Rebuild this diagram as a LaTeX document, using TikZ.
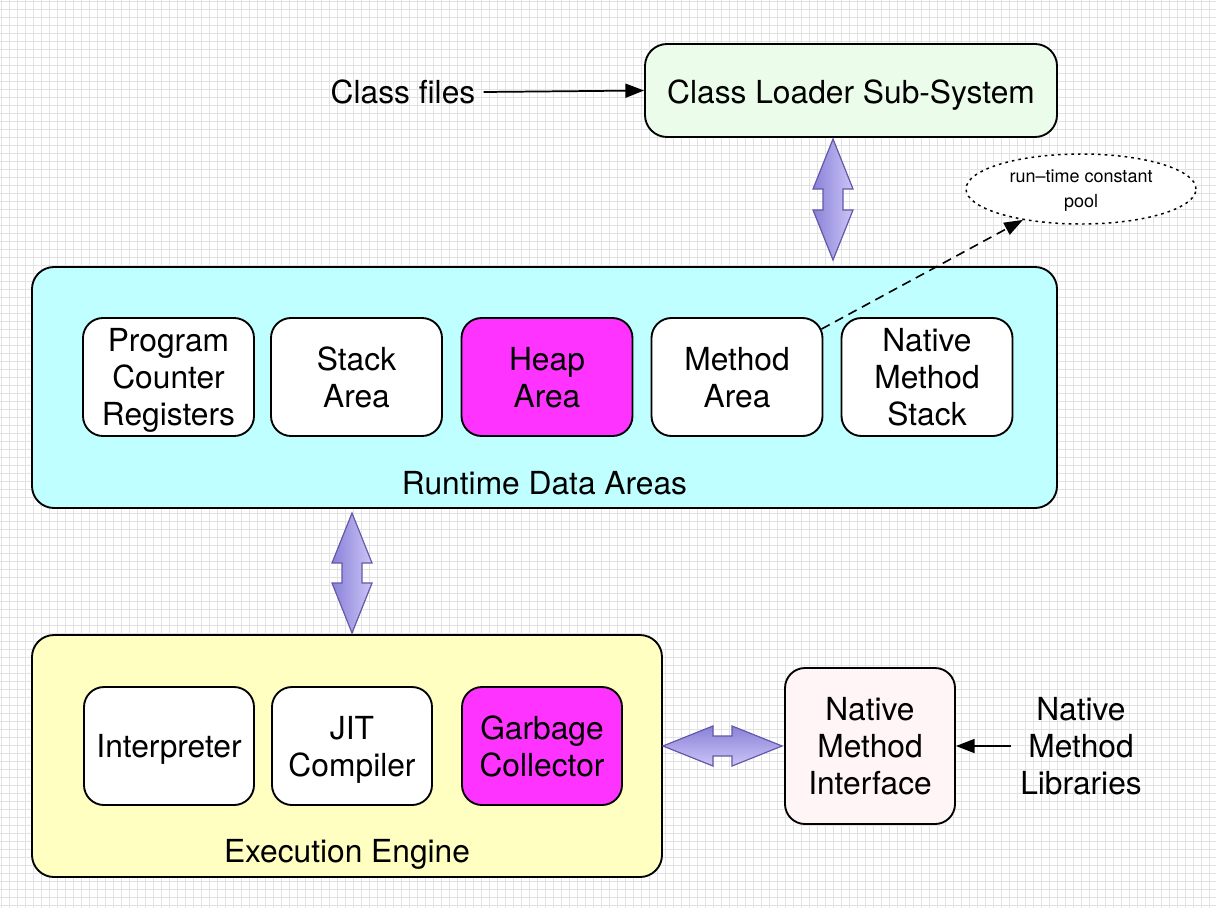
\documentclass[tikz,border=0pt]{standalone}
\usepackage{fontspec}
\setmainfont{TeX Gyre Heros}
\usetikzlibrary{calc,arrows.meta,shapes.geometric}
\definecolor{gridc}{HTML}{E2E2E2}
\definecolor{clfill}{HTML}{EBFCEB}
\definecolor{rdafill}{HTML}{BFFFFF}
\definecolor{eefill}{HTML}{FFFFC2}
\definecolor{magentafill}{HTML}{FF33FF}
\definecolor{nmifill}{HTML}{FFF4F6}
\definecolor{fatdark}{HTML}{8A82D8}
\definecolor{fatlight}{HTML}{CBC5F7}
\definecolor{fatline}{HTML}{6459A8}
\newcommand\fatv[2]{%
  \draw[fatarrow, left color=fatdark, right color=fatlight]
    (#1) -- ($(#1)+(20,50)$) -- ($(#1)+(10,50)$) -- ($(#2)+(10,-50)$) -- ($(#2)+(20,-50)$)
    -- (#2) -- ($(#2)+(-20,-50)$) -- ($(#2)+(-10,-50)$) -- ($(#1)+(-10,50)$) -- ($(#1)+(-20,50)$) -- cycle;}
\newcommand\fath[2]{%
  \draw[fatarrow, top color=fatdark, bottom color=fatlight]
    (#1) -- ($(#1)+(50,-20)$) -- ($(#1)+(50,-10)$) -- ($(#2)+(-50,-10)$) -- ($(#2)+(-50,-20)$)
    -- (#2) -- ($(#2)+(-50,20)$) -- ($(#2)+(-50,10)$) -- ($(#1)+(50,10)$) -- ($(#1)+(50,20)$) -- cycle;}
\begin{document}
\begin{tikzpicture}[x=0.75pt,y=-0.75pt,
  every node/.style={font=\fontsize{23.8}{27.75}\selectfont, text depth=0pt},
  gridline/.style={draw=gridc, line width=0.75pt},
  container/.style={draw, line width=1.4pt, rounded corners=16.5pt, inner sep=0pt},
  box/.style={draw, line width=1.4pt, rounded corners=15pt, align=center, inner sep=0pt,
    minimum height=88.5pt, minimum width=128.25pt, fill=white},
  txt/.style={align=center, inner sep=0pt},
  thinarrow/.style={line width=1.3pt, -{Triangle[length=14pt,width=10.5pt]}},
  fatarrow/.style={draw=fatline, line width=0.9pt, line join=miter},
  dasharrow/.style={line width=1.2pt, dash pattern=on 7pt off 4.5pt, -{Triangle[length=14pt,width=10pt]}}
]
\useasboundingbox (0,0) rectangle (1216,908);
\fill[white] (0,0) rectangle (1216,908);
\foreach \g in {1,9,...,1216} \draw[gridline] (\g,0) -- (\g,908);
\foreach \g in {1,9,...,908} \draw[gridline] (0,\g) -- (1216,\g);

% Class loader
\node[container, fill=clfill, minimum width=309pt, minimum height=69.75pt] (cl) at (851,90.5) {};
\node[txt] (cltext) at (851,92) {Class Loader Sub-System};
\node[txt, inner sep=6pt] (cf) at (403,92) {Class files};
\draw[thinarrow] (cf.east) -- (cl.west);

% Runtime data areas
\node[container, fill=rdafill, minimum width=768.75pt, minimum height=180.75pt] (rda) at (544.5,387.5) {};
\node[txt] (rdalabel) at (544.5,483) {Runtime Data Areas};
\node[box] (pc) at (168.5,377) {Program\\Counter\\Registers};
\node[box] (sa) at (356.5,377) {Stack\\Area};
\node[box, fill=magentafill] (ha) at (547,377) {Heap\\Area};
\node[box] (ma) at (737,377) {Method\\Area};
\node[box] (nms) at (927,377) {Native\\Method\\Stack};

% run-time constant pool
\node[ellipse, draw, line width=1.1pt, dash pattern=on 2pt off 3pt, fill=white, minimum width=172.5pt, minimum height=52.5pt,
  inner sep=0pt, align=center, font=\fontsize{13.5}{18.75}\selectfont] (pool) at (1081,189) {run–time constant\\pool};
\coordinate (mastart) at ($(ma.north east)+(-2,12)$);
\draw[dasharrow] (mastart) -- (pool.208);

% Execution engine
\node[container, fill=eefill, minimum width=472.5pt, minimum height=181.5pt] (ee) at (347,756) {};
\node[txt] (eelabel) at (347,851) {Execution Engine};
\node[box, minimum width=127.5pt] (interp) at (169,746) {Interpreter};
\node[box, minimum width=120pt] (jit) at (352,746) {JIT\\Compiler};
\node[box, minimum width=120pt, fill=magentafill] (gc) at (542,746) {Garbage\\Collector};

% Native method interface
\node[box, fill=nmifill, minimum width=127.5pt, minimum height=117pt] (nmi) at (870,746) {Native\\Method\\Interface};
\node[txt, inner sep=7pt] (lib) at (1081,746) {Native\\Method\\Libraries};
\draw[thinarrow] (lib.west) -- (nmi.east);

% fat double arrows
\coordinate (a1top) at (833,139);
\coordinate (a1bot) at (833,260);
\fatv{a1top}{a1bot}
\coordinate (a2top) at (352,513);
\coordinate (a2bot) at (352,633);
\fatv{a2top}{a2bot}
\coordinate (a3l) at (ee.east |- nmi.west);
\coordinate (a3r) at ($(nmi.west)+(-2,0)$);
\fath{a3l}{a3r}
\end{tikzpicture}
\end{document}
